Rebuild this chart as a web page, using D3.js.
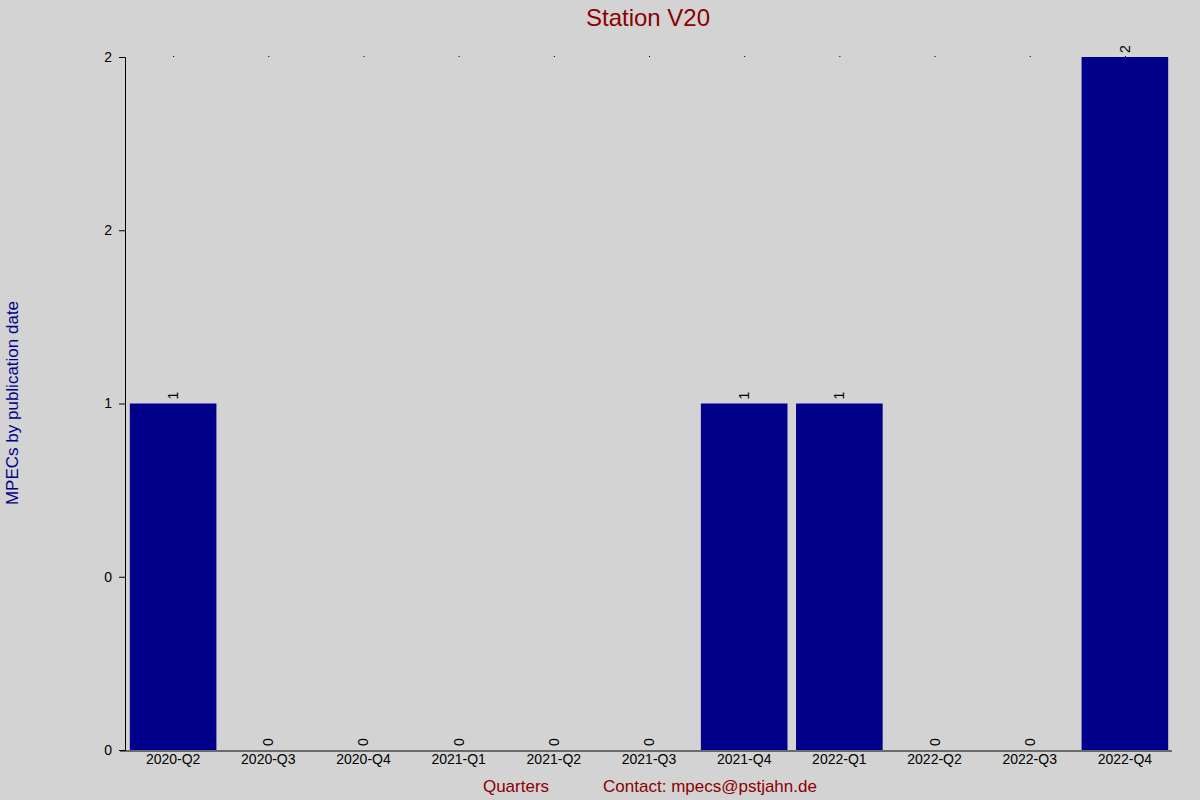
<!DOCTYPE html>
<html><head><meta charset="utf-8">
<script src="https://cdn.jsdelivr.net/npm/d3@7"></script>
<style>body{margin:0;background:#d3d3d3}svg{font-family:Arial,"Liberation Sans",sans-serif}</style>
</head><body><svg width="1200" height="800"></svg>
<script>
const categories=["2020-Q2","2020-Q3","2020-Q4","2021-Q1","2021-Q2","2021-Q3","2021-Q4","2022-Q1","2022-Q2","2022-Q3","2022-Q4"];
const values=[1,0,0,0,0,0,1,1,0,0,2];
const yTickValues=[0,0.5,1,1.5,2];
const yTickLabels=["0","0","1","2","2"];

const svg=d3.select("svg");
svg.append("rect").attr("width",1200).attr("height",800).attr("fill","#d3d3d3");
const L=125,R=1172,T=57,B=750;
const x=d3.scaleBand().domain(categories).range([L+1,R]).paddingInner(0.09).paddingOuter(0.04);
const y=d3.scaleLinear().domain([0,2]).range([B,T]);

svg.selectAll(".bar").data(values).enter().append("rect")
 .attr("x",(d,i)=>x(categories[i])).attr("width",x.bandwidth())
 .attr("y",d=>y(d)).attr("height",d=>B-y(d)).attr("fill","#00008b");
svg.selectAll(".dot").data(categories).enter().append("rect")
 .attr("x",d=>x(d)+x.bandwidth()/2).attr("y",T-1).attr("width",1).attr("height",1).attr("fill","#000");
svg.selectAll(".lbl").data(values).enter().append("text")
 .attr("transform",(d,i)=>`translate(${x(categories[i])+x.bandwidth()/2+5},${y(d)-4}) rotate(-90)`)
 .attr("font-size",14).attr("fill","#000").text(d=>d);

const ya=svg.append("g").attr("transform",`translate(${L},0)`)
 .call(d3.axisLeft(y).tickValues(yTickValues).tickFormat((d,i)=>yTickLabels[i]).tickSizeOuter(0).tickSize(6));
ya.selectAll("text").attr("font-size",14).attr("fill","#000").attr("dx",-4);
ya.select(".domain").attr("stroke","#000");
const xa=svg.append("g").attr("transform",`translate(0,${B+1})`)
 .call(d3.axisBottom(x).tickSize(0).tickSizeOuter(0));
xa.selectAll("text").attr("font-size",14).attr("fill","#000").attr("dy",10);
xa.select(".domain").attr("d",`M120,0H${R}`).attr("stroke","#000");

svg.append("text").attr("x",648).attr("y",26).attr("text-anchor","middle").attr("font-size",24).attr("fill","#8b0000").text("Station V20");
svg.append("text").attr("x",516).attr("y",792).attr("text-anchor","middle").attr("font-size",17).attr("fill","#8b0000").text("Quarters");
svg.append("text").attr("x",710).attr("y",792).attr("text-anchor","middle").attr("font-size",17).attr("fill","#8b0000").text("Contact: mpecs@pstjahn.de");
svg.append("text").attr("transform","translate(18,403) rotate(-90)").attr("text-anchor","middle").attr("font-size",17).attr("fill","#00008b").text("MPECs by publication date");
</script></body></html>
